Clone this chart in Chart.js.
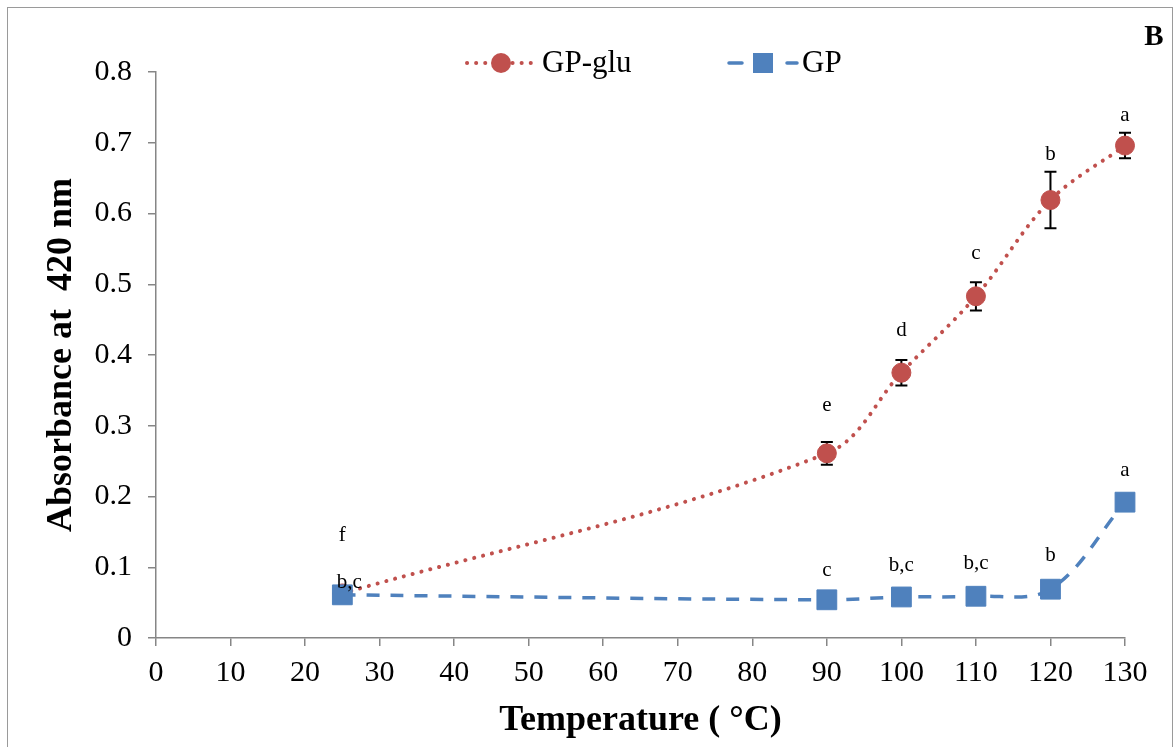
<!DOCTYPE html>
<html><head><meta charset="utf-8">
<script src="https://cdn.jsdelivr.net/npm/chart.js@4/dist/chart.umd.min.js"></script>
<style>
html,body{margin:0;padding:0;background:#fff;overflow:hidden}
#wrap{position:relative;width:1174px;height:747px;background:#fff}
#frame{position:absolute;left:7px;top:7px;width:1164px;height:780px;border:1.5px solid #9a9a9a;pointer-events:none}
canvas{position:absolute;left:0;top:0}
</style></head><body>
<div id="wrap"><canvas id="c" width="1174" height="747"></canvas><div id="frame"></div></div>
<script>
// ---- data ----
const temperatures = [25, 90, 100, 110, 120, 130];
const gpGlu = [0.063, 0.261, 0.375, 0.483, 0.619, 0.696];
const gpGluErr = [0, 0.016, 0.018, 0.020, 0.040, 0.018];
const gp = [0.061, 0.054, 0.058, 0.059, 0.069, 0.192];
const gpGluLetters = ['f', 'e', 'd', 'c', 'b', 'a'];
const gpLetters = ['b,c', 'c', 'b,c', 'b,c', 'b', 'a'];
const gpGluLetterAt = [0.145, 0.329, 0.435, 0.544, 0.683, 0.739];
const gpLetterAt = [0.078, 0.096, 0.103, 0.105, 0.117, 0.237];
const xTicks = [0, 10, 20, 30, 40, 50, 60, 70, 80, 90, 100, 110, 120, 130];
const yTicks = [0, 0.1, 0.2, 0.3, 0.4, 0.5, 0.6, 0.7, 0.8];
const yTickLabels = ['0', '0.1', '0.2', '0.3', '0.4', '0.5', '0.6', '0.7', '0.8'];
const seriesNames = ['GP-glu', 'GP'];

const RED = '#C0504D', BLUE = '#4F81BD', AXIS = '#868686';
const SERIF = '"Liberation Serif", "Times New Roman", serif';

const extras = {
  id: 'extras',
  beforeDatasetsDraw(chart) {
    const ctx = chart.ctx, xs = chart.scales.x, ys = chart.scales.y;
    ctx.save();
    ctx.strokeStyle = '#000';
    ctx.lineWidth = 2;
    temperatures.forEach((t, i) => {
      const e = gpGluErr[i];
      if (!e) return;
      const x = xs.getPixelForValue(t);
      const y1 = ys.getPixelForValue(gpGlu[i] + e);
      const y2 = ys.getPixelForValue(gpGlu[i] - e);
      ctx.beginPath();
      ctx.moveTo(x, y1); ctx.lineTo(x, y2);
      ctx.moveTo(x - 6, y1); ctx.lineTo(x + 6, y1);
      ctx.moveTo(x - 6, y2); ctx.lineTo(x + 6, y2);
      ctx.stroke();
    });
    ctx.restore();
  },
  afterDatasetsDraw(chart) {
    const ctx = chart.ctx, xs = chart.scales.x, ys = chart.scales.y;
    ctx.save();
    ctx.fillStyle = '#000';
    ctx.font = '21px ' + SERIF;
    ctx.textAlign = 'center';
    ctx.textBaseline = 'middle';
    temperatures.forEach((t, i) => {
      const x = xs.getPixelForValue(t);
      ctx.fillText(gpGluLetters[i], x, ys.getPixelForValue(gpGluLetterAt[i]));
      ctx.fillText(gpLetters[i], x + (i === 0 ? 7 : 0), ys.getPixelForValue(gpLetterAt[i]));
    });
    ctx.restore();
  },
  afterDraw(chart) {
    const ctx = chart.ctx;
    ctx.save();
    const ly = 63;
    // GP-glu legend entry
    ctx.strokeStyle = RED; ctx.lineWidth = 4; ctx.lineCap = 'round';
    ctx.setLineDash([0.1, 9]);
    ctx.beginPath(); ctx.moveTo(467, ly); ctx.lineTo(537, ly); ctx.stroke();
    ctx.setLineDash([]);
    ctx.fillStyle = RED;
    ctx.beginPath(); ctx.arc(501, ly, 10, 0, Math.PI * 2); ctx.fill();
    // GP legend entry
    ctx.strokeStyle = BLUE; ctx.lineWidth = 3.5; ctx.lineCap = 'round';
    ctx.beginPath(); ctx.moveTo(729, ly); ctx.lineTo(742, ly); ctx.moveTo(787, ly); ctx.lineTo(797, ly); ctx.stroke();
    ctx.fillStyle = BLUE;
    ctx.fillRect(753, ly - 10, 20, 20);
    // texts
    ctx.fillStyle = '#000';
    ctx.font = '31px ' + SERIF;
    ctx.textAlign = 'left'; ctx.textBaseline = 'middle';
    ctx.fillText(seriesNames[0], 542, ly + 1);
    ctx.fillText(seriesNames[1], 802, ly + 1);
    // panel letter
    ctx.font = 'bold 29px ' + SERIF;
    ctx.textAlign = 'center';
    ctx.fillText('B', 1154, 38);
    ctx.restore();
  }
};

new Chart(document.getElementById('c'), {
  type: 'line',
  data: {
    datasets: [
      {
        label: seriesNames[0],
        data: temperatures.map((t, i) => ({ x: t, y: gpGlu[i] })),
        borderColor: RED, borderWidth: 4, borderDash: [0.1, 9], borderCapStyle: 'round',
        pointStyle: 'circle', pointRadius: 9.5, pointBackgroundColor: RED, pointBorderColor: RED, pointBorderWidth: 1,
        tension: 0.35, clip: false, order: 2
      },
      {
        label: seriesNames[1],
        data: temperatures.map((t, i) => ({ x: t, y: gp[i] })),
        borderColor: BLUE, borderWidth: 3.5, borderDash: [13, 11], borderCapStyle: 'butt',
        pointStyle: 'rect', pointRadius: 14, pointBackgroundColor: BLUE, pointBorderColor: BLUE, pointBorderWidth: 1,
        tension: 0.35, clip: false, order: 1
      }
    ]
  },
  options: {
    responsive: false, animation: false, devicePixelRatio: 1,
    layout: { padding: { top: 72, right: 49, left: 0, bottom: 0 } },
    plugins: { legend: { display: false }, tooltip: { enabled: false } },
    scales: {
      x: {
        type: 'linear', min: 0, max: 130,
        afterBuildTicks: s => { s.ticks = xTicks.map(v => ({ value: v })); },
        afterFit: s => { s.height = 109; },
        ticks: { font: { family: SERIF, size: 30 }, color: '#000', padding: 9, maxRotation: 0, autoSkip: false },
        grid: { display: true, drawOnChartArea: false, drawTicks: true, tickLength: 8, color: AXIS, lineWidth: 1.5 },
        border: { display: true, color: AXIS, width: 1.5 },
        title: { display: true, text: 'Temperature ( °C)', color: '#000', font: { family: SERIF, size: 36, weight: 'bold' }, padding: { top: 0, bottom: 5 } }
      },
      y: {
        type: 'linear', min: 0, max: 0.8,
        afterBuildTicks: s => { s.ticks = yTicks.map(v => ({ value: v })); },
        afterFit: s => { s.width = 156; },
        ticks: { font: { family: SERIF, size: 30 }, color: '#000', padding: 16, autoSkip: false,
                 callback: (v, i) => yTickLabels[i] },
        grid: { display: true, drawOnChartArea: false, drawTicks: true, tickLength: 8, color: AXIS, lineWidth: 1.5 },
        border: { display: true, color: AXIS, width: 1.5 },
        title: { display: true, text: 'Absorbance at  420 nm', color: '#000', font: { family: SERIF, size: 36, weight: 'bold' }, padding: { top: 40, bottom: 0 } }
      }
    }
  },
  plugins: [extras]
});
</script>
</body></html>
